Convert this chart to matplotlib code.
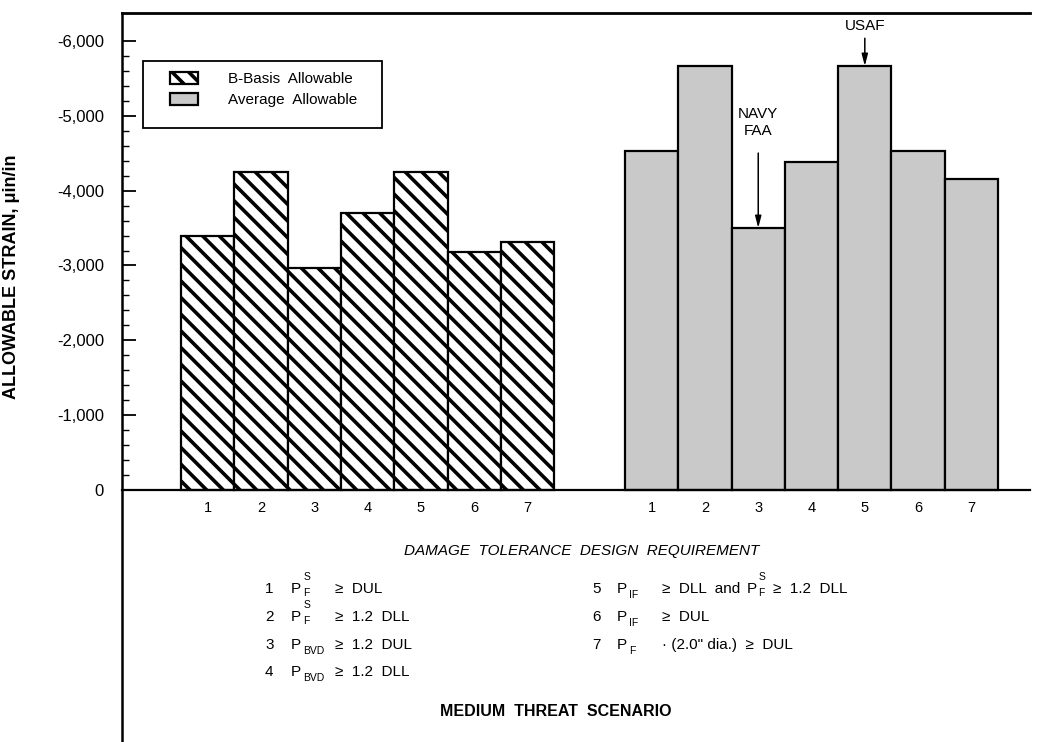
import numpy as np
import matplotlib
matplotlib.use("Agg")
import matplotlib.pyplot as plt
from matplotlib.patches import Patch, Rectangle
from matplotlib.ticker import FixedLocator, FuncFormatter

# ---------------- data ----------------
categories = ['1', '2', '3', '4', '5', '6', '7']
b_basis = [-3400, -4250, -2960, -3700, -4250, -3180, -3310]
average = [-4530, -5665, -3500, -4380, -5665, -4530, -4150]
y_major = [0, -1000, -2000, -3000, -4000, -5000, -6000]
legend_labels = ['B-Basis  Allowable', 'Average  Allowable']

W, H = 1050, 742
plt.rcParams['font.family'] = ['Liberation Sans', 'DejaVu Sans']
plt.rcParams['hatch.linewidth'] = 2.6
GRAY = '#c9c9c9'

fig = plt.figure(figsize=(W / 100, H / 100), dpi=100)
ax = fig.add_axes([122 / W, 0, 908 / W, 729 / H])

gap = 1.33
x_b = np.arange(len(categories))
x_a = np.arange(len(categories)) + len(categories) + gap

ax.bar(x_b, b_basis, width=1.0, facecolor='white', edgecolor='black',
       hatch='\\\\', linewidth=1.6, zorder=2)
ax.bar(x_a, average, width=1.0, facecolor=GRAY, edgecolor='black',
       linewidth=1.6, zorder=2)

ax.set_xlim(-1.61, 15.43)
ax.set_ylim(3368, -6374)

ax.spines['right'].set_visible(False)
ax.spines['left'].set_linewidth(1.8)
ax.spines['top'].set_linewidth(2.0)
ax.spines['bottom'].set_position(('data', 0))
ax.spines['bottom'].set_linewidth(1.6)

ax.set_xticks(list(x_b) + list(x_a))
ax.set_xticklabels(categories + categories)
ax.tick_params(axis='x', length=0, pad=8, labelsize=10.5)

ax.yaxis.set_major_locator(FixedLocator(y_major))
minor = [v for v in range(0, -6001, -200) if v % 1000 != 0]
ax.yaxis.set_minor_locator(FixedLocator(minor))
ax.yaxis.set_major_formatter(FuncFormatter(lambda v, p: f"{int(v):,}"))
ax.tick_params(axis='y', which='major', direction='in', length=10, width=1.3,
               pad=13, labelsize=12)
ax.tick_params(axis='y', which='minor', direction='in', length=5, width=1.0)

ax.set_ylabel('ALLOWABLE STRAIN, \u03bcin/in', fontsize=13, fontweight='bold')
ax.yaxis.set_label_coords(-0.112, 0.638)

# legend (frame drawn separately)
handles = [Patch(facecolor='white', edgecolor='black', hatch='\\\\', linewidth=1.6),
           Patch(facecolor=GRAY, edgecolor='black', linewidth=1.6)]
ax.add_patch(Rectangle((0.0231, 0.8423), 0.2632, 0.0919, transform=ax.transAxes,
                       facecolor='white', edgecolor='black', linewidth=1.3, zorder=4))
leg = ax.legend(handles, legend_labels, loc='upper left',
                bbox_to_anchor=(0.0529, 0.919), frameon=False, fontsize=11,
                handlelength=1.85, handleheight=0.85, labelspacing=0.42,
                handletextpad=1.95, borderpad=0.0, borderaxespad=0.0)
leg.set_zorder(5)

# annotations
arrow = dict(arrowstyle='-|>,head_width=0.18,head_length=0.7',
             color='black', lw=1.1, shrinkA=0, shrinkB=0)
i5 = 4
ax.annotate('', xy=(x_a[i5], average[i5]), xytext=(0, 20), textcoords='offset points',
            arrowprops=arrow)
ax.annotate('USAF', xy=(x_a[i5], average[i5]), xytext=(0, 29), textcoords='offset points',
            ha='center', va='center', fontsize=11)
i3 = 2
ax.annotate('', xy=(x_a[i3], average[i3]), xytext=(0, 54), textcoords='offset points',
            arrowprops=arrow)
ax.annotate('NAVY\nFAA', xy=(x_a[i3], average[i3]), xytext=(0, 76), textcoords='offset points',
            ha='center', va='center', fontsize=11, linespacing=1.3)

renderer = fig.canvas.get_renderer()


def ftext(x, y, s, fs=11, **kw):
    kw.setdefault('va', 'center')
    t = fig.text(x / W, 1 - y / H, s, fontsize=fs, **kw)
    bb = t.get_window_extent(renderer)
    return bb.x1


ftext(582, 551, 'DAMAGE  TOLERANCE  DESIGN  REQUIREMENT', ha='center',
      style='italic', fs=11)
ftext(556, 712, 'MEDIUM  THREAT  SCENARIO', ha='center', fontweight='bold', fs=11.5)

FS = 11
SFS = 7.5


def p_sf(x, y):
    e = ftext(x, y, 'P', FS)
    e1 = ftext(e + 2, y - 12, 'S', SFS)
    e2 = ftext(e + 2, y + 4, 'F', SFS)
    return max(e1, e2)


def p_sub(x, y, sub):
    e = ftext(x, y, 'P', FS)
    return ftext(e + 2, y + 6, sub, SFS)


rows_y = [589, 617, 645, 672]
NL, PL, GL = 265, 291, 335
NR, PR, GR = 592, 617, 662

# left column
ftext(NL, rows_y[0], '1', FS); e = p_sf(PL, rows_y[0])
ftext(max(GL, e + 8), rows_y[0], '\u2265  DUL', FS)
ftext(NL, rows_y[1], '2', FS); e = p_sf(PL, rows_y[1])
ftext(max(GL, e + 8), rows_y[1], '\u2265  1.2  DLL', FS)
ftext(NL, rows_y[2], '3', FS); e = p_sub(PL, rows_y[2], 'BVD')
ftext(max(GL, e + 3), rows_y[2], '\u2265  1.2  DUL', FS)
ftext(NL, rows_y[3], '4', FS); e = p_sub(PL, rows_y[3], 'BVD')
ftext(max(GL, e + 3), rows_y[3], '\u2265  1.2  DLL', FS)

# right column
ftext(NR, rows_y[0], '5', FS); e = p_sub(PR, rows_y[0], 'IF')
e = ftext(max(GR, e + 8), rows_y[0], '\u2265  DLL  and', FS)
e = p_sf(e + 6, rows_y[0])
ftext(e + 8, rows_y[0], '\u2265  1.2  DLL', FS)
ftext(NR, rows_y[1], '6', FS); e = p_sub(PR, rows_y[1], 'IF')
ftext(max(GR, e + 8), rows_y[1], '\u2265  DUL', FS)
ftext(NR, rows_y[2], '7', FS); e = p_sub(PR, rows_y[2], 'F')
ftext(max(GR, e + 8), rows_y[2], '\u00b7 (2.0" dia.)  \u2265  DUL', FS)

fig.savefig('out.png', dpi=100)
